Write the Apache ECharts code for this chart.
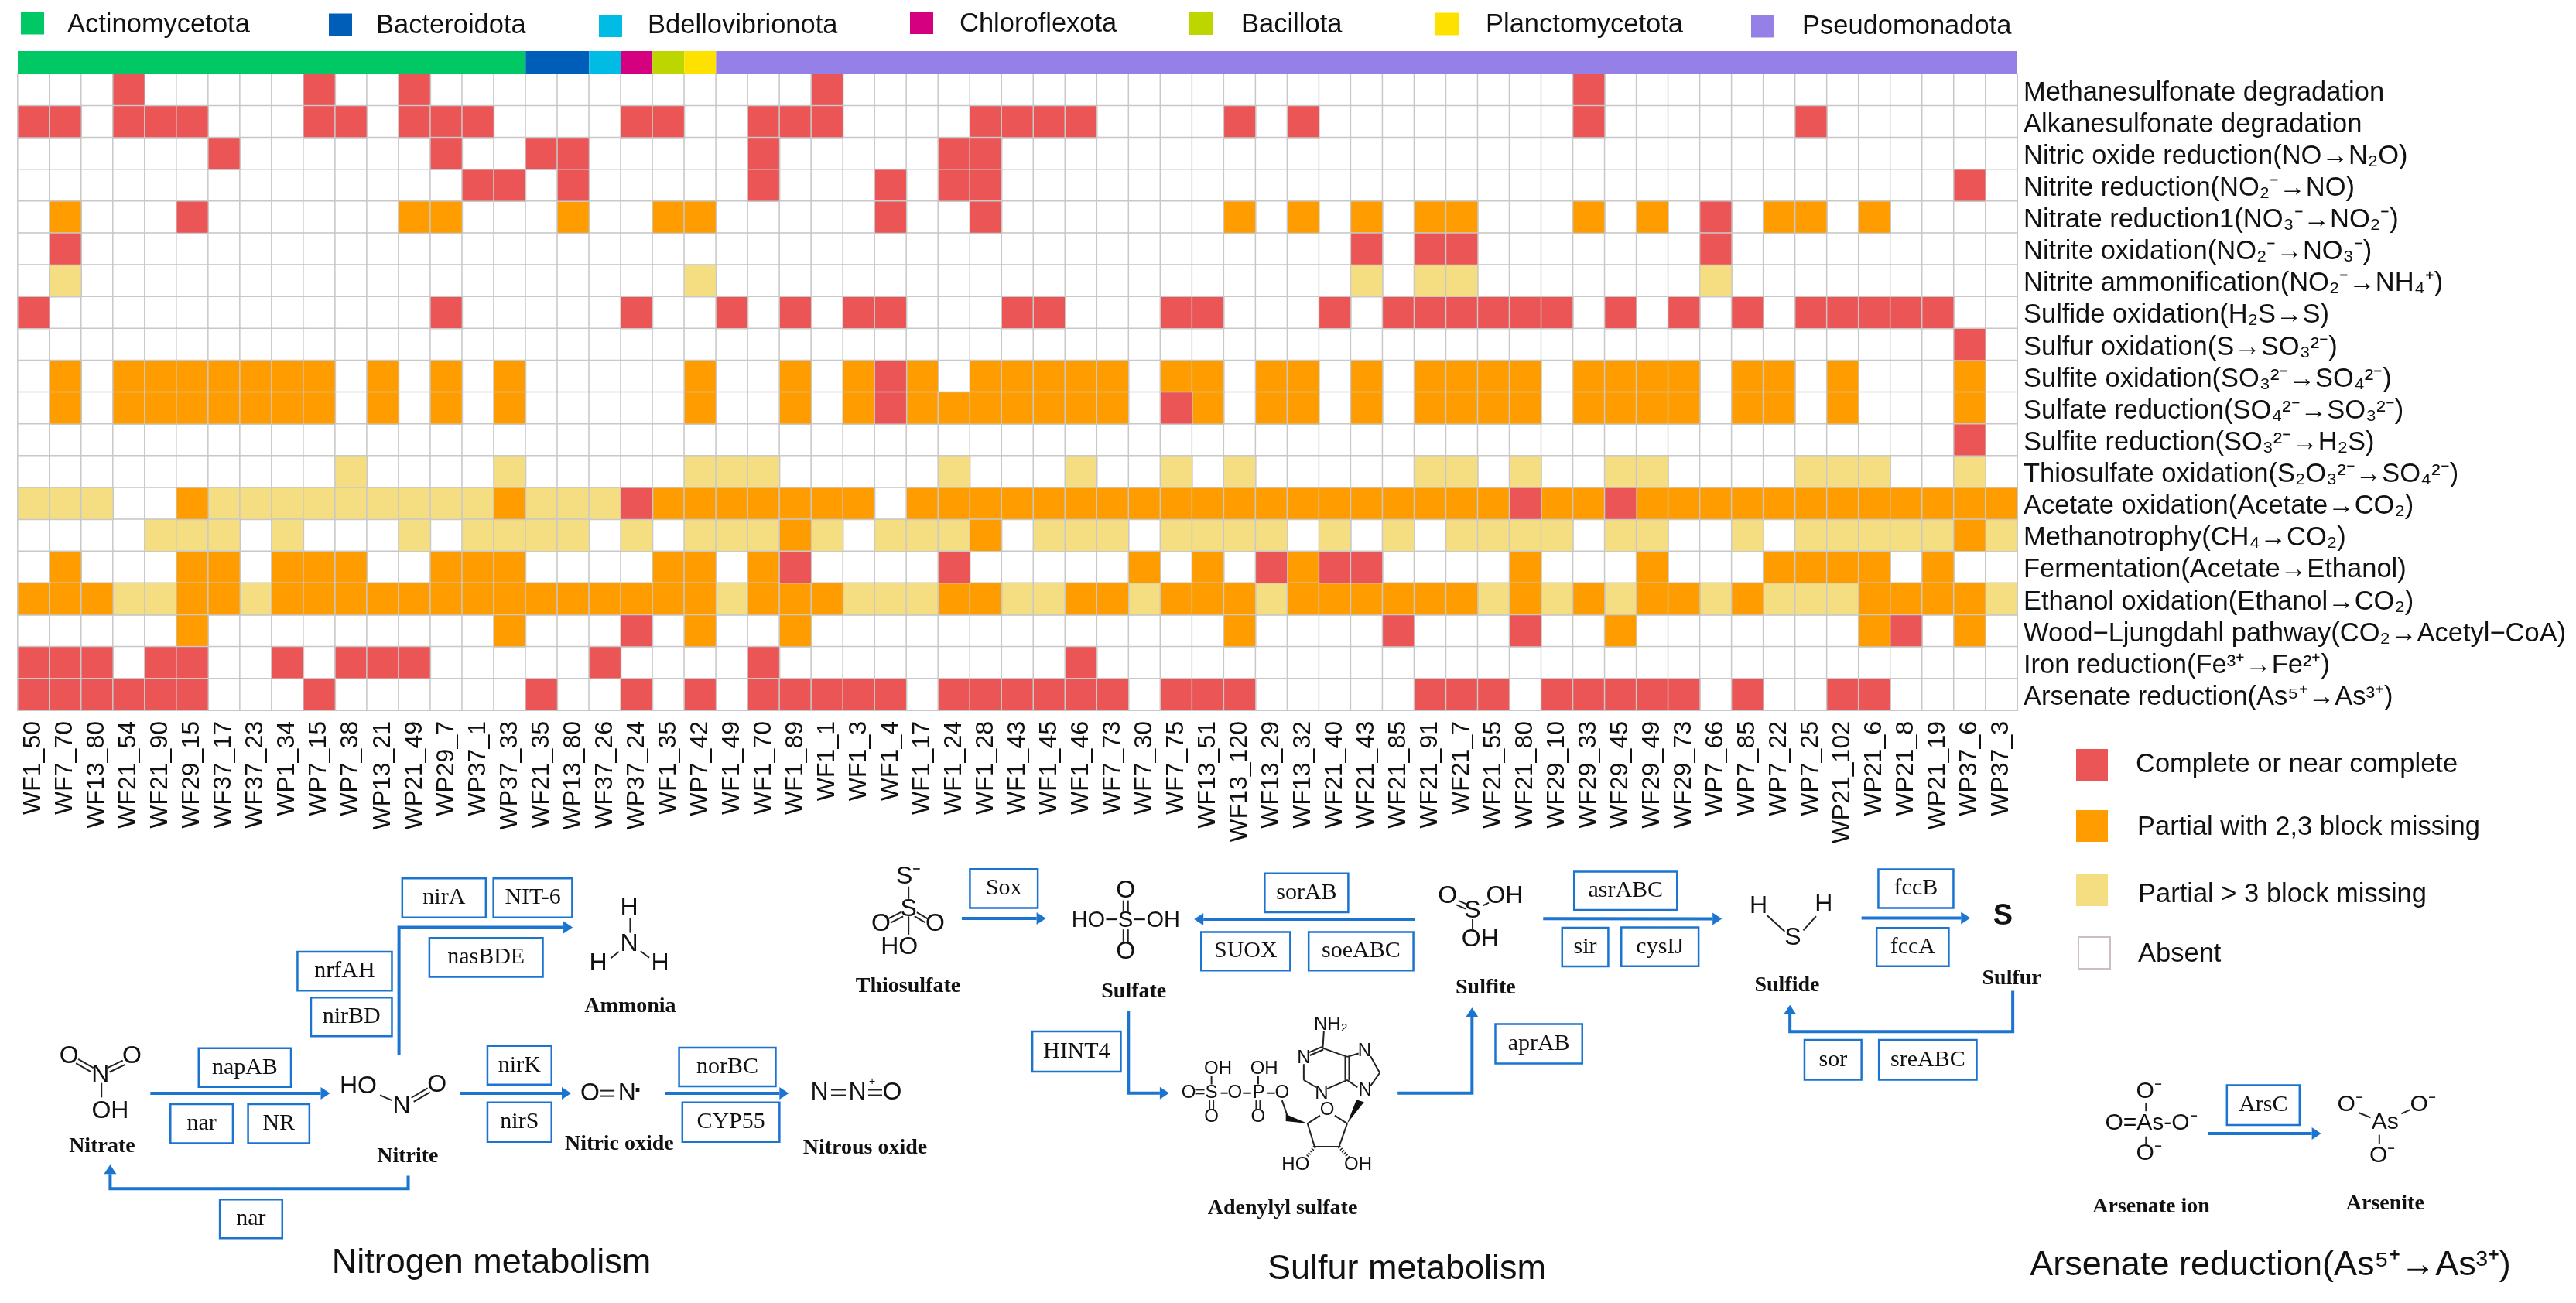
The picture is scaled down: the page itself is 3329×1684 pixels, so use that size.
<!DOCTYPE html>
<html><head><meta charset="utf-8">
<style>html,body{margin:0;padding:0;background:#fff}#c{width:3329px;height:1684px}</style>
<script src="https://cdn.jsdelivr.net/npm/echarts@6/dist/echarts.min.js"></script>
</head><body><div id="c"></div>
<script>
const samples = ['WF1_50','WF7_70','WF13_80','WF21_54','WF21_90','WF29_15','WF37_17','WF37_23','WP1_34','WP7_15','WP7_38','WP13_21','WP21_49','WP29_7','WP37_1','WP37_33','WF21_35','WP13_80','WF37_26','WP37_24','WF1_35','WP7_42','WF1_49','WF1_70','WF1_89','WF1_1','WF1_3','WF1_4','WF1_17','WF1_24','WF1_28','WF1_43','WF1_45','WF1_46','WF7_73','WF7_30','WF7_75','WF13_51','WF13_120','WF13_29','WF13_32','WF21_40','WF21_43','WF21_85','WF21_91','WF21_7','WF21_55','WF21_80','WF29_10','WF29_33','WF29_45','WF29_49','WF29_73','WP7_66','WP7_85','WP7_22','WP7_25','WP21_102','WP21_6','WP21_8','WP21_19','WP37_6','WP37_3'];
const pathways = ['Methanesulfonate degradation','Alkanesulfonate degradation','Nitric oxide reduction(NO→N₂O)','Nitrite reduction(NO₂⁻→NO)','Nitrate reduction1(NO₃⁻→NO₂⁻)','Nitrite oxidation(NO₂⁻→NO₃⁻)','Nitrite ammonification(NO₂⁻→NH₄⁺)','Sulfide oxidation(H₂S→S)','Sulfur oxidation(S→SO₃²⁻)','Sulfite oxidation(SO₃²⁻→SO₄²⁻)','Sulfate reduction(SO₄²⁻→SO₃²⁻)','Sulfite reduction(SO₃²⁻→H₂S)','Thiosulfate oxidation(S₂O₃²⁻→SO₄²⁻)','Acetate oxidation(Acetate→CO₂)','Methanotrophy(CH₄→CO₂)','Fermentation(Acetate→Ethanol)','Ethanol oxidation(Ethanol→CO₂)','Wood−Ljungdahl pathway(CO₂→Acetyl−CoA)','Iron reduction(Fe³⁺→Fe²⁺)','Arsenate reduction(As⁵⁺→As³⁺)'];
const phyla = ['Actinomycetota','Bacteroidota','Bdellovibrionota','Chloroflexota','Bacillota','Planctomycetota','Pseudomonadota'];
const phylumCounts = [16,2,1,1,1,1,41];
const levels = ['Absent','Partial > 3 block missing','Partial with 2,3 block missing','Complete or near complete'];
// 0 absent, 1 partial >3 missing, 2 partial 2-3 missing, 3 complete
const rMethanesulfonate = [0,0,0,3,0,0,0,0,0,3, 0,0,3,0,0,0,0,0,0,0, 0,0,0,0,0,3,0,0,0,0, 0,0,0,0,0,0,0,0,0,0, 0,0,0,0,0,0,0,0,0,3, 0,0,0,0,0,0,0,0,0,0, 0,0,0];
const rAlkanesulfonate = [3,3,0,3,3,3,0,0,0,3, 3,0,3,3,3,0,0,0,0,3, 3,0,0,3,3,3,0,0,0,0, 3,3,3,3,0,0,0,0,3,0, 3,0,0,0,0,0,0,0,0,3, 0,0,0,0,0,0,3,0,0,0, 0,0,0];
const rNitricOxide = [0,0,0,0,0,0,3,0,0,0, 0,0,0,3,0,0,3,3,0,0, 0,0,0,3,0,0,0,0,0,3, 3,0,0,0,0,0,0,0,0,0, 0,0,0,0,0,0,0,0,0,0, 0,0,0,0,0,0,0,0,0,0, 0,0,0];
const rNitriteRed = [0,0,0,0,0,0,0,0,0,0, 0,0,0,0,3,3,0,3,0,0, 0,0,0,3,0,0,0,3,0,3, 3,0,0,0,0,0,0,0,0,0, 0,0,0,0,0,0,0,0,0,0, 0,0,0,0,0,0,0,0,0,0, 0,3,0];
const rNitrateRed = [0,2,0,0,0,3,0,0,0,0, 0,0,2,2,0,0,0,2,0,0, 2,2,0,0,0,0,0,3,0,0, 3,0,0,0,0,0,0,0,2,0, 2,0,2,0,2,2,0,0,0,2, 0,2,0,3,0,2,2,0,2,0, 0,0,0];
const rNitriteOx = [0,3,0,0,0,0,0,0,0,0, 0,0,0,0,0,0,0,0,0,0, 0,0,0,0,0,0,0,0,0,0, 0,0,0,0,0,0,0,0,0,0, 0,0,3,0,3,3,0,0,0,0, 0,0,0,3,0,0,0,0,0,0, 0,0,0];
const rNitriteAmm = [0,1,0,0,0,0,0,0,0,0, 0,0,0,0,0,0,0,0,0,0, 0,1,0,0,0,0,0,0,0,0, 0,0,0,0,0,0,0,0,0,0, 0,0,1,0,1,1,0,0,0,0, 0,0,0,1,0,0,0,0,0,0, 0,0,0];
const rSulfideOx = [3,0,0,0,0,0,0,0,0,0, 0,0,0,3,0,0,0,0,0,3, 0,0,3,0,3,0,3,3,0,0, 0,3,3,0,0,0,3,3,0,0, 0,3,0,3,3,3,3,3,3,0, 3,0,3,0,3,0,3,3,3,3, 3,0,0];
const rSulfurOx = [0,0,0,0,0,0,0,0,0,0, 0,0,0,0,0,0,0,0,0,0, 0,0,0,0,0,0,0,0,0,0, 0,0,0,0,0,0,0,0,0,0, 0,0,0,0,0,0,0,0,0,0, 0,0,0,0,0,0,0,0,0,0, 0,3,0];
const rSulfiteOx = [0,2,0,2,2,2,2,2,2,2, 0,2,0,2,0,2,0,0,0,0, 0,2,0,0,2,0,2,3,2,0, 2,2,2,2,2,0,2,2,0,2, 2,0,2,0,2,2,2,2,0,2, 2,2,2,0,2,2,0,2,0,0, 0,2,0];
const rSulfateRed = [0,2,0,2,2,2,2,2,2,2, 0,2,0,2,0,2,0,0,0,0, 0,2,0,0,2,0,2,3,2,2, 2,2,2,2,2,0,3,2,0,2, 2,0,2,0,2,2,2,2,0,2, 2,2,2,0,2,2,0,2,0,0, 0,2,0];
const rSulfiteRed = [0,0,0,0,0,0,0,0,0,0, 0,0,0,0,0,0,0,0,0,0, 0,0,0,0,0,0,0,0,0,0, 0,0,0,0,0,0,0,0,0,0, 0,0,0,0,0,0,0,0,0,0, 0,0,0,0,0,0,0,0,0,0, 0,3,0];
const rThiosulfateOx = [0,0,0,0,0,0,0,0,0,0, 1,0,0,0,0,1,0,0,0,0, 0,1,1,1,0,0,0,0,0,1, 0,0,0,1,0,0,1,0,1,0, 0,0,0,0,1,1,0,1,0,0, 1,1,0,0,0,0,1,1,1,0, 0,1,0];
const rAcetateOx = [1,1,1,0,0,2,1,1,1,1, 1,1,1,1,1,2,1,1,1,3, 2,2,2,2,2,2,2,0,2,2, 2,2,2,2,2,2,2,2,2,2, 2,2,2,2,2,2,2,3,2,2, 3,2,2,2,2,2,2,2,2,2, 2,2,2];
const rMethanotrophy = [0,0,0,0,1,1,1,0,1,0, 0,0,1,0,1,1,1,1,0,1, 0,1,1,1,2,1,0,1,1,1, 2,0,1,1,1,0,1,1,1,1, 0,1,0,1,0,1,1,1,1,0, 1,1,0,0,1,0,1,1,1,1, 1,2,1];
const rFermentation = [0,2,0,0,0,2,2,0,2,2, 2,0,0,2,2,2,0,0,0,0, 2,2,0,2,3,0,0,0,0,3, 0,0,0,0,0,2,0,2,0,3, 2,3,3,0,0,0,0,2,0,0, 0,2,0,0,0,2,2,2,2,0, 2,0,0];
const rEthanolOx = [2,2,2,1,1,2,2,1,2,2, 2,2,2,2,2,2,2,2,2,2, 2,2,1,2,2,2,1,1,1,2, 2,1,1,2,2,1,2,2,2,1, 2,2,2,2,2,2,1,2,1,2, 1,2,2,1,2,1,1,1,2,2, 2,2,1];
const rWoodLjungdahl = [0,0,0,0,0,2,0,0,0,0, 0,0,0,0,0,2,0,0,0,3, 0,2,0,0,2,0,0,0,0,0, 0,0,0,0,0,0,0,0,2,0, 0,0,0,3,0,0,0,3,0,0, 2,0,0,0,0,0,0,0,2,3, 0,2,0];
const rIronRed = [3,3,3,0,3,3,0,0,3,0, 3,3,3,0,0,0,0,0,3,0, 0,0,0,3,0,0,0,0,0,0, 0,0,0,3,0,0,0,0,0,0, 0,0,0,0,0,0,0,0,0,0, 0,0,0,0,0,0,0,0,0,0, 0,0,0];
const rArsenateRed = [3,3,3,3,3,3,0,0,0,3, 0,0,0,0,0,0,3,0,0,3, 0,3,0,3,3,3,3,3,0,3, 3,3,3,3,3,0,3,3,3,0, 0,0,0,0,3,3,3,0,3,3, 3,3,3,0,3,0,0,3,3,0, 0,0,0];
const matrix = [rMethanesulfonate,rAlkanesulfonate,rNitricOxide,rNitriteRed,rNitrateRed,rNitriteOx,rNitriteAmm,rSulfideOx,rSulfurOx,rSulfiteOx,rSulfateRed,rSulfiteRed,rThiosulfateOx,rAcetateOx,rMethanotrophy,rFermentation,rEthanolOx,rWoodLjungdahl,rIronRed,rArsenateRed];

const SANS='"Liberation Sans",Arial,sans-serif', SERIF='"Liberation Serif","Times New Roman",serif';
const phylumColors=['#00C864','#005EB8','#00BBE3','#D4007F','#BDD600','#FFE100','#9480E6'];
const levelColors=['#FFFFFF','#F5DE82','#FF9C00','#EC5555'];
const GRIDC='#C8C8C8', BLUE='#1B74D0', INK='#111';

/* top legend layout: left, top, text gap, text drop */
const phLegend=[[27,15,30,5],[425,16,31,3],[774,16,33,0],[1176,14,34,4],[1537,15,37,4],[1855,15,35,3],[2263,17,36,1]];
const lvlLegend=[[2683,968,36,0],[2683,1047,38,3],[2683,1130,39,12],[2685,1210,36,3]];
const levelOrder=[3,2,1,0];
const richText=(drop,gap)=>({fontFamily:SANS,fontSize:34.5,color:INK,rich:{t:{fontFamily:SANS,fontSize:34.5,color:INK,padding:[drop,0,0,gap]}}});

const legends=[];
phyla.forEach((p,i)=>legends.push({data:[p],left:phLegend[i][0],top:phLegend[i][1],orient:'horizontal',padding:0,
  icon:'rect',itemWidth:30,itemHeight:29,selectedMode:false,itemStyle:{borderWidth:0},formatter:n=>'{t|'+n+'}',
  textStyle:richText(phLegend[i][3],phLegend[i][2]-5)}));
levelOrder.forEach((l,i)=>legends.push({data:[levels[l]],left:lvlLegend[i][0],top:lvlLegend[i][1],orient:'horizontal',padding:0,
  icon:'rect',itemWidth:41,itemHeight:41,selectedMode:false,formatter:n=>'{t|'+n+'}',
  itemStyle:l===0?{color:'#fff',borderColor:'#CDBDC5',borderWidth:2}:{borderWidth:0},
  textStyle:richText(lvlLegend[i][3],lvlLegend[i][2]-5)}));

const series=[];
levels.forEach((name,l)=>{
  const data=[];
  matrix.forEach((row,y)=>row.forEach((v,x)=>{if(v===l)data.push([x,y,v]);}));
  series.push({type:'heatmap',name,xAxisIndex:0,yAxisIndex:0,data,silent:true,
    itemStyle:{color:levelColors[l],borderColor:GRIDC,borderWidth:1.5},emphasis:{disabled:true},progressive:0});
});
phyla.forEach((name,i)=>series.push({type:'bar',name,xAxisIndex:1,yAxisIndex:1,stack:'ph',barWidth:'100%',silent:true,
  data:[phylumCounts[i]],itemStyle:{color:phylumColors[i]}}));

/* ---- pathway diagram decoration ---- */
const Z8=(x,y)=>[x/1.4255,1100+y/2.67], Z9=(x,y)=>[1050+x/1.4255,1100+y/2.67], Z10=(x,y)=>[2150+x/1.33,1050+y/2.46];
const G=[];
const CH=32;
function T(p,text,size,font,bold,align){G.push({type:'text',x:p[0],y:p[1],silent:true,style:{text,fill:INK,
  font:(bold?'bold ':'')+size+'px '+(font||SANS),textAlign:align||'center',textVerticalAlign:'middle'}});}
function L(a,b,w,c){G.push({type:'line',silent:true,shape:{x1:a[0],y1:a[1],x2:b[0],y2:b[1]},style:{stroke:c||'#222',lineWidth:w||2}});}
function D(a,b,off){const dx=b[0]-a[0],dy=b[1]-a[1],n=Math.hypot(dx,dy),ox=-dy/n*(off||3),oy=dx/n*(off||3);
  L([a[0]+ox,a[1]+oy],[b[0]+ox,b[1]+oy]);L([a[0]-ox,a[1]-oy],[b[0]-ox,b[1]-oy]);}
function Box(Z,l,t,r,b,text){const p=Z(l,t),q=Z(r,b);
  G.push({type:'rect',silent:true,shape:{x:p[0],y:p[1],width:q[0]-p[0],height:q[1]-p[1]},style:{fill:'#fff',stroke:BLUE,lineWidth:2.5}});
  T([(p[0]+q[0])/2,(p[1]+q[1])/2],text,30,SERIF);}
function Arrow(pts){const n=pts.length,a=pts[n-2],b=pts[n-1],dx=b[0]-a[0],dy=b[1]-a[1],m=Math.hypot(dx,dy),ux=dx/m,uy=dy/m;
  const base=[b[0]-ux*12,b[1]-uy*12],line=pts.slice(0,n-1).concat([base]);
  G.push({type:'polyline',silent:true,shape:{points:line},style:{stroke:BLUE,lineWidth:4,fill:null}});
  G.push({type:'polygon',silent:true,shape:{points:[b,[base[0]-uy*8,base[1]+ux*8],[base[0]+uy*8,base[1]-ux*8]]},style:{fill:BLUE}});}
const Lbl=(p,t)=>T(p,t,28,SERIF,true);

/* nitrogen */
Box(Z8,741,94,895,229,'nirA');Box(Z8,909,94,1054,229,'NIT-6');Box(Z8,791,300,1000,434,'nasBDE');
Box(Z8,548,347,722,481,'nrfAH');Box(Z8,573,505,722,639,'nirBD');Box(Z8,366,680,536,814,'napAB');
Box(Z8,314,873,429,1008,'nar');Box(Z8,457,873,570,1008,'NR');Box(Z8,898,672,1016,806,'nirK');
Box(Z8,898,867,1016,1003,'nirS');Box(Z8,1251,678,1429,812,'norBC');Box(Z8,1257,867,1436,1003,'CYP55');
Box(Z8,405,1202,520,1336,'nar');
Arrow([Z8(735,705),Z8(735,263),Z8(1055,263)]);
Arrow([Z8(277,836),Z8(608,836)]);Arrow([Z8(847,836),Z8(1052,836)]);Arrow([Z8(1225,836),Z8(1453,836)]);
Arrow([Z8(752,1120),Z8(752,1165),Z8(203,1165),Z8(203,1082)]);
Lbl(Z8(188,1018),'Nitrate');Lbl(Z8(751,1055),'Nitrite');Lbl(Z8(1141,1012),'Nitric oxide');Lbl([1118,1484],'Nitrous oxide');Lbl(Z8(1161,535),'Ammonia');
T(Z8(127,708),'O',CH);T(Z8(243,708),'O',CH);T(Z8(185,772),'N',CH);T(Z8(203,897),'OH',CH);
D(Z8(142,725),Z8(170,755));D(Z8(200,755),Z8(228,730));L(Z8(187,800),Z8(187,850));
T(Z8(660,813),'HO',CH);T(Z8(740,882),'N',CH);T(Z8(805,808),'O',CH);L(Z8(700,842),Z8(722,860));D(Z8(760,858),Z8(790,825));
T(Z8(1087,836),'O',CH);D(Z8(1106,836),Z8(1132,836),3.5);T(Z8(1155,835),'N',CH);T(Z8(1176,830),'·',34,SANS,true);
[['N',1059],['N',1108],['O',1153]].forEach(a=>T([a[1],1412],a[0],CH));
D([1074,1412],[1093,1412],3.5);D([1122,1412],[1140,1412],3.5);T([1127,1398],'+',14);
T(Z8(1159,195),'H',CH);T(Z8(1159,322),'N',CH);T(Z8(1102,387),'H',CH);T(Z8(1216,387),'H',CH);
L(Z8(1161,232),Z8(1161,282));L(Z8(1125,370),Z8(1140,347));L(Z8(1196,368),Z8(1180,345));

/* sulfur */
Box(Z9,290,62,415,196,'Sox');Box(Z9,833,77,987,211,'sorAB');Box(Z9,716,279,880,412,'SUOX');Box(Z9,914,279,1107,412,'soeABC');
{const a=Z9(1403,71),b=Z10(23,310);Box((x,y)=>x===1403?a:b,1403,71,0,0,'asrABC');}
Box(Z9,1381,264,1466,398,'sir');
{const a=Z9(1490,263),b=Z10(60,489);Box((x,y)=>x===1490?a:b,1490,263,0,0,'cysIJ');}
Box(Z9,405,622,568,761,'HINT4');Box(Z9,1258,597,1418,733,'aprAB');
Box(Z10,369,181,498,304,'fccB');Box(Z10,366,367,490,489,'fccA');Box(Z10,242,723,340,850,'sor');Box(Z10,370,723,538,850,'sreABC');
Arrow([Z9(275,232),Z9(430,232)]);Arrow([Z9(1110,235),Z9(703,235)]);Arrow([Z9(1346,233),Z10(100,338)]);
Arrow([Z9(582,550),Z9(582,835),Z9(657,835)]);Arrow([Z9(1078,835),Z9(1215,835),Z9(1215,540)]);
Arrow([Z10(340,336),Z10(527,336)]);Arrow([Z10(600,567),Z10(600,697),Z10(217,697),Z10(217,612)]);
Lbl(Z9(176,467),'Thiosulfate');Lbl(Z9(592,484),'Sulfate');Lbl(Z9(1240,472),'Sulfite');Lbl(Z9(866,1233),'Adenylyl sulfate');
Lbl(Z10(212,551),'Sulfide');Lbl(Z10(598,528),'Sulfur');
T(Z9(177,88),'S⁻',CH);T(Z9(177,200),'S',CH);T(Z9(126,252),'O',CH);T(Z9(226,252),'O',CH);T(Z9(160,332),'HO',CH);
L(Z9(177,122),Z9(177,165));L(Z9(177,225),Z9(177,288));D(Z9(142,240),Z9(165,218));D(Z9(190,218),Z9(210,240));
T(Z9(577,240),'HO−S−OH',29);T(Z9(577,137),'O',CH);T(Z9(577,347),'O',CH);D(Z9(577,170),Z9(577,210));D(Z9(577,270),Z9(577,315));
T(Z9(1170,155),'O',CH);T(Z9(1275,155),'OH',CH);T(Z9(1216,205),'S',CH);T(Z9(1230,305),'OH',CH);
D(Z9(1188,178),Z9(1205,192));L(Z9(1235,188),Z9(1246,178));L(Z9(1216,235),Z9(1216,270));
/* APS */
const S2=24;
[[747,750,'OH'],[832,750,'OH'],[693,835,'O'],[735,835,'S'],[778,835,'O'],[822,835,'P'],[865,835,'O'],[735,917,'O'],[821,917,'O'],[905,715,'N'],[1017,690,'N'],[938,838,'N'],[1018,825,'N'],[948,893,'O'],[890,1083,'HO'],[1005,1083,'OH'],[955,600,'NH₂']].forEach(a=>T(Z9(a[0],a[1]),a[2],S2));
L(Z9(735,775),Z9(735,805));L(Z9(821,775),Z9(821,805));D(Z9(705,830),Z9(722,830),2.5);
L(Z9(752,835),Z9(765,835));L(Z9(793,835),Z9(808,835));L(Z9(838,835),Z9(852,835));
D(Z9(735,860),Z9(735,893),2.5);D(Z9(821,860),Z9(821,893),2.5);
L(Z9(865,860),Z9(875,915));G.push({type:'polygon',silent:true,shape:{points:[Z9(912,940),Z9(872,908),Z9(872,932)]},style:{fill:'#111'}});
G.push({type:'polygon',silent:true,shape:{points:[Z9(985,940),Z9(1002,858),Z9(1016,866)]},style:{fill:'#111'}});
L(Z9(912,940),Z9(935,912));L(Z9(962,912),Z9(985,940));L(Z9(985,940),Z9(970,1020));L(Z9(970,1020),Z9(925,1020));L(Z9(925,1020),Z9(912,940));
G.push({type:'line',silent:true,shape:{x1:Z9(925,1020)[0],y1:Z9(925,1020)[1],x2:Z9(910,1058)[0],y2:Z9(910,1058)[1]},style:{stroke:'#222',lineWidth:4,lineDash:[1.5,2]}});
G.push({type:'line',silent:true,shape:{x1:Z9(970,1020)[0],y1:Z9(970,1020)[1],x2:Z9(988,1058)[0],y2:Z9(988,1058)[1]},style:{stroke:'#222',lineWidth:4,lineDash:[1.5,2]}});
L(Z9(940,680),Z9(942,622));D(Z9(940,680),Z9(915,700),2);L(Z9(905,735),Z9(905,790));L(Z9(905,790),Z9(928,815));L(Z9(948,820),Z9(985,790));
D(Z9(985,790),Z9(985,710),2.5);L(Z9(985,710),Z9(940,680));L(Z9(985,710),Z9(1006,698));L(Z9(1028,708),Z9(1045,765));L(Z9(1045,765),Z9(1028,810));L(Z9(1004,815),Z9(985,790));
/* sulfide and sulfur */
T(Z10(163,298),'H',CH);T(Z10(275,292),'H',CH);T(Z10(222,400),'S',CH);L(Z10(178,328),Z10(208,378));L(Z10(262,330),Z10(240,375));
T(Z10(583,330),'S',38,SANS,true);
/* arsenate */
Box(Z10,968,867,1093,994,'ArsC');Arrow([Z10(935,1021),Z10(1130,1021)]);
Lbl(Z10(838,1253),'Arsenate ion');Lbl(Z10(1240,1243),'Arsenite');
T(Z10(838,988),'O=As-O⁻',30);T(Z10(834,888),'O⁻',30);T(Z10(834,1085),'O⁻',30);L(Z10(829,925),Z10(829,950));L(Z10(829,1030),Z10(829,1055));
T(Z10(1180,928),'O⁻',30);T(Z10(1305,928),'O⁻',30);T(Z10(1240,985),'As',30);T(Z10(1235,1092),'O⁻',30);
L(Z10(1195,955),Z10(1215,970));L(Z10(1268,958),Z10(1283,945));L(Z10(1230,1025),Z10(1230,1055));
/* section titles */
T([635,1633],'Nitrogen metabolism',45);T([1818,1641],'Sulfur metabolism',45);T([2934,1636],'Arsenate reduction(As⁵⁺→As³⁺)',45);

const chart=echarts.init(document.getElementById('c'),null,{renderer:'canvas',width:3329,height:1684});
chart.setOption({
  animation:false,backgroundColor:'#fff',legend:legends,
  tooltip:{show:false},
  grid:[{left:23,top:95.5,width:2584,height:822.5,containLabel:false},
        {left:23,top:66,width:2584,height:29.5,containLabel:false}],
  xAxis:[{type:'category',gridIndex:0,data:samples,position:'bottom',splitArea:{show:false},
     axisLine:{show:false},axisTick:{show:false},
     axisLabel:{rotate:90,interval:0,margin:14,fontFamily:SANS,fontSize:32,color:INK}},
    {type:'value',gridIndex:1,min:0,max:63,show:false}],
  yAxis:[{type:'category',gridIndex:0,data:pathways,inverse:true,position:'right',
     axisLine:{show:false},axisTick:{show:false},splitArea:{show:false},
     axisLabel:{interval:0,margin:8,align:'left',formatter:v=>'{t|'+v+'}',
       rich:{t:{fontFamily:SANS,fontSize:34.5,color:INK,padding:[8,0,0,0]}}}},
    {type:'category',gridIndex:1,data:['phylum'],show:false}],
  series,
  graphic:{elements:G}
});
</script></body></html>
